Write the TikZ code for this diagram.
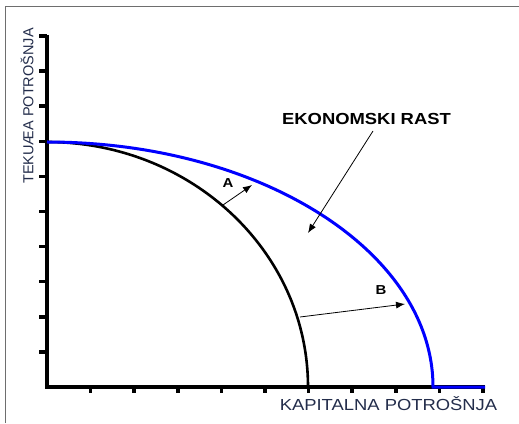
\documentclass[tikz,border=0pt]{standalone}
\usepackage{fontspec}
\setmainfont{Liberation Sans}
\newfontfamily\widesans[FakeStretch=1.15]{Liberation Sans}
\usetikzlibrary{arrows.meta}
\definecolor{labelnavy}{RGB}{35,45,75}
\definecolor{framegray}{RGB}{110,110,110}
\definecolor{ppfblue}{RGB}{0,0,255}
\begin{document}
\begin{tikzpicture}[x=1pt,y=1pt,
  axisline/.style={line width=4.5pt},
  yticks/.style={line width=3.5pt},
  xticks/.style={line width=3.5pt},
  oldppf/.style={line width=2.6pt,black},
  newppf/.style={line width=3pt,ppfblue},
  shiftarrow/.style={line width=0.8pt,-{Latex[length=9pt,width=7pt]}},
  axlabel/.style={inner sep=0pt,text=labelnavy},
  letter/.style={inner sep=0pt,font=\widesans\bfseries\fontsize{13}{13}\selectfont}]
\useasboundingbox (0,0) rectangle (519,423);
% frame
\draw[framegray,line width=0.9pt] (5,0) -- (5,417) -- (519,417);
% axes
\coordinate (O) at (47,36);
\coordinate (Ytop) at (47,388);
\coordinate (Xend) at (485,36);
\foreach \j in {1,...,10} {
  \draw[yticks] (39,{36+35.1*\j}) -- (47,{36+35.1*\j});
}
\foreach \i in {1,...,10} {
  \draw[xticks] ({47+43.6*\i},36) -- ({47+43.6*\i},30);
}
\draw[axisline] (Ytop) -- (O) -- (Xend);
% curves
\coordinate (P0) at (47,281);
\draw[oldppf] (P0) arc[start angle=90,end angle=0,x radius=261,y radius=245] coordinate (Pold);
\draw[newppf] (P0) arc[start angle=90,end angle=0,x radius=386,y radius=245] coordinate (Pnew) -- (Xend);
% labels
\node[axlabel,rotate=90,font=\fontsize{14.5}{14.5}\selectfont] (ylab) at (27,317) {TEKUÆA POTROŠNJA};
\node[axlabel,font=\widesans\fontsize{16}{16}\selectfont] (xlab) at (388.5,19) {KAPITALNA POTROŠNJA};
\node[inner sep=0pt,font=\widesans\bfseries\fontsize{16}{16}\selectfont] (rast) at (366.5,304.5) {EKONOMSKI RAST};
\node[letter] (lA) at (228,240) {A};
\node[letter] (lB) at (381,133) {B};
% arrows
\coordinate (rs) at (373,292);
\coordinate (re) at (308,190);
\coordinate (as) at (223,218);
\coordinate (ae) at (252,238);
\coordinate (bs) at (300,106);
\coordinate (be) at (405,119);
\draw[shiftarrow] (rs) -- (re);
\draw[shiftarrow] (as) -- (ae);
\draw[shiftarrow] (bs) -- (be);
\end{tikzpicture}
\end{document}
